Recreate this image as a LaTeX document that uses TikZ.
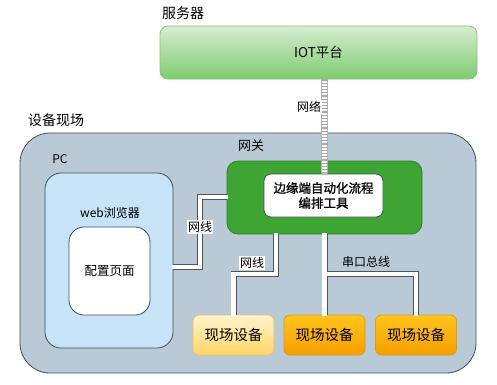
\documentclass[tikz,border=0pt]{standalone}
\usepackage{fontspec}
\setmainfont{Noto Sans CJK SC}
\newfontfamily\boldcjk[FakeBold=1.2]{Noto Sans CJK SC}
\definecolor{outerfill}{HTML}{B9CAD6}
\definecolor{outerdraw}{HTML}{3D4F5C}
\definecolor{pcfill}{HTML}{C6E3F8}
\definecolor{gwfill}{HTML}{3EA535}
\definecolor{gwdraw}{HTML}{2E7F28}
\definecolor{iottop}{HTML}{D6EDD0}
\definecolor{iotbot}{HTML}{7FCB70}
\definecolor{iotdraw}{HTML}{8CC07A}
\definecolor{yeltop}{HTML}{FFF3CF}
\definecolor{yelbot}{HTML}{FFD463}
\definecolor{yeldraw}{HTML}{E3C36A}
\definecolor{orgtop}{HTML}{FFC41F}
\definecolor{orgbot}{HTML}{F59F00}
\definecolor{orgdraw}{HTML}{E09A10}
\definecolor{cabledraw}{HTML}{4A5560}
\tikzset{
  box/.style={draw, rounded corners, inner sep=0pt, line width=0.8pt},
  lbl/.style={inner sep=1pt, font=\fontsize{13}{15}\selectfont},
  small/.style={inner sep=1pt, font=\fontsize{12}{14}\selectfont},
  cableout/.style={line width=6pt, draw=cabledraw},
  cablein/.style={line width=4.2pt, draw=white},
  dev/.style={box, rounded corners=6pt, minimum width=81pt, minimum height=40pt, font=\fontsize{14.5}{16}\selectfont},
}
\begin{document}
\begin{tikzpicture}[x=1pt,y=-1pt]
\useasboundingbox (0,0) rectangle (497,384);
% server
\node[lbl, font=\fontsize{14}{16}\selectfont] (srvlbl) at (183,13) {服务器};
\node[box, rounded corners=8pt, draw=iotdraw, top color=iottop, bottom color=iotbot,
      minimum width=317pt, minimum height=53pt, font=\fontsize{13.5}{16}\selectfont] (iot) at (318.5,52.5) {IOT平台};
% site
\node[lbl, font=\fontsize{14}{16}\selectfont] (sitelbl) at (56,120) {设备现场};
\node[box, rounded corners=30pt, draw=outerdraw, fill=outerfill,
      minimum width=456pt, minimum height=240pt] (outer) at (248,253) {};
\node[small] (pclbl) at (60,159) {PC};
\node[box, rounded corners=16pt, draw=outerdraw, fill=pcfill,
      minimum width=128pt, minimum height=175pt] (pc) at (109,260.5) {};
\node[small] (weblbl) at (110,213) {web浏览器};
\node[box, rounded corners=15pt, draw=outerdraw, fill=white,
      minimum width=81pt, minimum height=88pt, font=\fontsize{12.5}{14}\selectfont] (cfg) at (109.5,271) {配置页面};
% gateway
\node[lbl] (gwlbl) at (251,146) {网关};
\node[box, rounded corners=11pt, draw=gwdraw, fill=gwfill,
      minimum width=195pt, minimum height=73pt] (gw) at (324.5,197.5) {};
% network ladder
\draw[line width=6pt, white] (iot.south -| 324,0) -- (324,174);
\draw[line width=6pt, gray!70, dash pattern=on 1.2pt off 2pt] (iot.south -| 324,0) -- (324,174);
\draw[line width=0.5pt, gray!60] (321,79) -- (321,174) (327,79) -- (327,174);
\node[small, fill=white] (netlbl) at (309,107) {网络};
\node[box, rounded corners=7pt, draw=outerdraw, fill=white,
      minimum width=119pt, minimum height=43pt, align=center,
      font=\boldcjk\fontsize{12.5}{15}\selectfont] (tool) at (323.5,195.5) {边缘端自动化流程\\编排工具};
% devices
\node[dev, draw=yeldraw, top color=yeltop, bottom color=yelbot] (dev1) at (233.5,335) {现场设备};
\node[dev, draw=orgdraw, top color=orgtop, bottom color=orgbot] (dev2) at (324.5,335) {现场设备};
\node[dev, draw=orgdraw, top color=orgtop, bottom color=orgbot] (dev3) at (416,335) {现场设备};
% cables: outer pass
\draw[cableout] (pc.east |- 0,267) -- (200,267) -- (200,197) -- (gw.west |- 0,197);
\draw[cableout] (gw.south -| 276,0) -- (276,274) -- (dev1.north |- 0,274) -- (dev1.north);
\draw[cableout] (gw.south) -- (dev2.north);
\draw[cableout] (324,274) -- (dev3.north |- 0,274) -- (dev3.north);
% cables: inner pass
\draw[cablein] ([xshift=-1pt]pc.east |- 0,267) -- (200,267) -- (200,197) -- ([xshift=1pt]gw.west |- 0,197);
\draw[cablein] ([yshift=1pt]gw.south -| 276,0) -- (276,274) -- (dev1.north |- 0,274) -- ([yshift=-1pt]dev1.north);
\draw[cablein] ([yshift=1pt]gw.south) -- ([yshift=-1pt]dev2.north);
\draw[cablein] (324,274) -- (dev3.north |- 0,274) -- ([yshift=-1pt]dev3.north);
% cable labels
\node[small, fill=white] (lbl1) at (200,227) {网线};
\node[small, fill=white] (lbl2) at (252,263) {网线};
\node[small] (lbl3) at (366,262) {串口总线};
\end{tikzpicture}
\end{document}
